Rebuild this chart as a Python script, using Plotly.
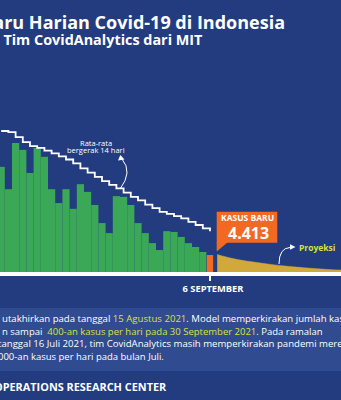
import plotly.graph_objects as go

# ---------------- data ----------------
days_actual = list(range(-29, 0))
cases_actual = [27300, 21500, 33500, 31700, 25700, 32200, 29900, 21500, 17900, 21500,
                16400, 22800, 20800, 17400, 12700, 10100, 19700, 19500, 17400, 12700,
                10100, 7500, 5700, 10600, 10400, 9100, 7500, 6500, 5200]
day_today = [0]
cases_today = [4413]
ma_days = list(range(-29, 1))
ma_values = [36600, 36300, 35000, 33700, 32700, 32200, 31500, 30800, 30000, 29200,
             28200, 26900, 25800, 24700, 23600, 22600, 21700, 20600, 19500, 18600,
             17500, 16600, 15600, 15100, 14500, 13900, 13000, 12200, 11300, 10600]
proj_days = list(range(1, 20))
proj_values = [4540, 4020, 3560, 3170, 2860, 2600, 2340, 2080, 1840, 1640,
               1450, 1270, 1120, 960, 830, 700, 600, 520, 440]
tick_vals = [0]
tick_text = ["6 SEPTEMBER"]

# ---------------- style ----------------
W, H = 341, 400
PLOT_H = 272
BG = "#223c7f"
BOX = "#304b8f"
GREEN = "#3aa856"
ORANGE = "#f26a21"
GOLD = "#d0a83c"
HL = "#d8e23c"
FONT = "Open Sans"


def px(x):
    return x / W


def py(y):
    return (PLOT_H - y) / PLOT_H


fig = go.Figure()
fig.add_trace(go.Bar(x=days_actual, y=cases_actual, width=1.0,
                     marker=dict(color=GREEN, line=dict(width=0)), hoverinfo="skip"))
fig.add_trace(go.Bar(x=day_today, y=cases_today, width=0.88,
                     marker=dict(color=ORANGE, line=dict(width=0)), hoverinfo="skip"))
fig.add_trace(go.Scatter(x=proj_days, y=proj_values, mode="lines", fill="tozeroy",
                         fillcolor=GOLD, line=dict(color=GOLD, width=0.5, shape="spline"),
                         hoverinfo="skip"))
fig.add_trace(go.Scatter(x=ma_days, y=ma_values, mode="lines",
                         line=dict(color="white", width=1.8, shape="hv"), hoverinfo="skip"))

shapes = []
# lighter text box
shapes.append(dict(type="rect", xref="paper", yref="paper", x0=px(-5), x1=px(346),
                   y0=py(371), y1=py(308), fillcolor=BOX, line=dict(width=0), layer="below"))
# callout box
shapes.append(dict(type="rect", xref="paper", yref="paper", x0=px(216.7), x1=px(277.3),
                   y0=py(242.7), y1=py(211.7), fillcolor=ORANGE, line=dict(width=0)))
shapes.append(dict(type="path", xref="paper", yref="paper",
                   path=f"M {px(216.7)} {py(242)} L {px(228)} {py(242)} L {px(216.7)} {py(251.5)} Z",
                   fillcolor=ORANGE, line=dict(width=0)))
# moving-average arrow
shapes.append(dict(type="path", xref="paper", yref="paper",
                   path=f"M {px(120)} {py(189)} Q {px(133)} {py(172)} {px(122)} {py(159)}",
                   line=dict(color="white", width=1)))
shapes.append(dict(type="path", xref="paper", yref="paper",
                   path=f"M {px(120.3)} {py(155)} L {px(118)} {py(160.5)} L {px(124.5)} {py(159.5)} Z",
                   fillcolor="white", line=dict(width=0)))
# projection arrow
shapes.append(dict(type="path", xref="paper", yref="paper",
                   path=f"M {px(279)} {py(264)} Q {px(279)} {py(248)} {px(290)} {py(247.5)}",
                   line=dict(color="white", width=1)))
shapes.append(dict(type="path", xref="paper", yref="paper",
                   path=f"M {px(295.5)} {py(247)} L {px(290)} {py(244.3)} L {px(290)} {py(249.8)} Z",
                   fillcolor="white", line=dict(width=0)))

ann = []


def text(x, y, s, size, color="white", weight=400, xanchor="left", align="left"):
    ann.append(dict(xref="paper", yref="paper", x=px(x), y=py(y), text=s, showarrow=False,
                    xanchor=xanchor, yanchor="middle", align=align,
                    font=dict(family=FONT, size=size, color=color, weight=weight)))


text(287, 21.5, "Kasus Baru Harian Covid-19 di Indonesia", 18, weight=700, xanchor="right")
text(204.5, 39, "Proyeksi Tim CovidAnalytics dari MIT", 14.4, weight=700, xanchor="right")
text(96, 142.8, "Rata-rata", 7.5, xanchor="center")
text(96, 149.8, "bergerak 14 hari", 7.5, xanchor="center")
text(247, 217.5, "KASUS BARU", 8.5, weight=700, xanchor="center")
text(248.5, 232.5, "4.413", 16, weight=700, xanchor="center")
text(297, 247, "Proyeksi", 8.5, color=HL, weight=700)

hl = lambda s: f"<span style='color:{HL}'>{s}</span>"
text(0, 318, "utakhirkan pada tanggal " + hl("15 Agustus 2021") + ". Model memperkirakan jumlah kasus", 9.6)
text(0, 331, "n sampai\u00a0\u00a0" + hl("400-an kasus per hari pada 30 September 2021") + ". Pada ramalan", 9.5)
text(-4.5, 343.5, "tanggal 16 Juli 2021, tim CovidAnalytics masih memperkirakan pandemi mereda", 9.6)
text(-4.5, 356, "000-an kasus per hari pada bulan Juli.", 9.5)
text(-8, 386, "OPERATIONS RESEARCH CENTER", 10.9, weight=700)

fig.update_layout(
    width=W, height=H,
    margin=dict(l=0, r=0, t=0, b=H - PLOT_H, pad=0),
    paper_bgcolor=BG, plot_bgcolor=BG,
    showlegend=False, barmode="overlay",
    shapes=shapes, annotations=ann,
    xaxis=dict(range=[-29.1667, 18.194], showgrid=False, zeroline=False,
               showline=True, linecolor="white", linewidth=4,
               ticks="outside", ticklen=5, tickwidth=2, tickcolor="white",
               tickvals=tick_vals, ticktext=tick_text, ticklabelshift=3,
               tickfont=dict(family=FONT, size=9.3, color="white", weight=700),
               fixedrange=True),
    yaxis=dict(range=[0, PLOT_H * 259.6], visible=False, showgrid=False,
               zeroline=False, fixedrange=True),
)

fig.write_html("out.html", config={"displayModeBar": False})
